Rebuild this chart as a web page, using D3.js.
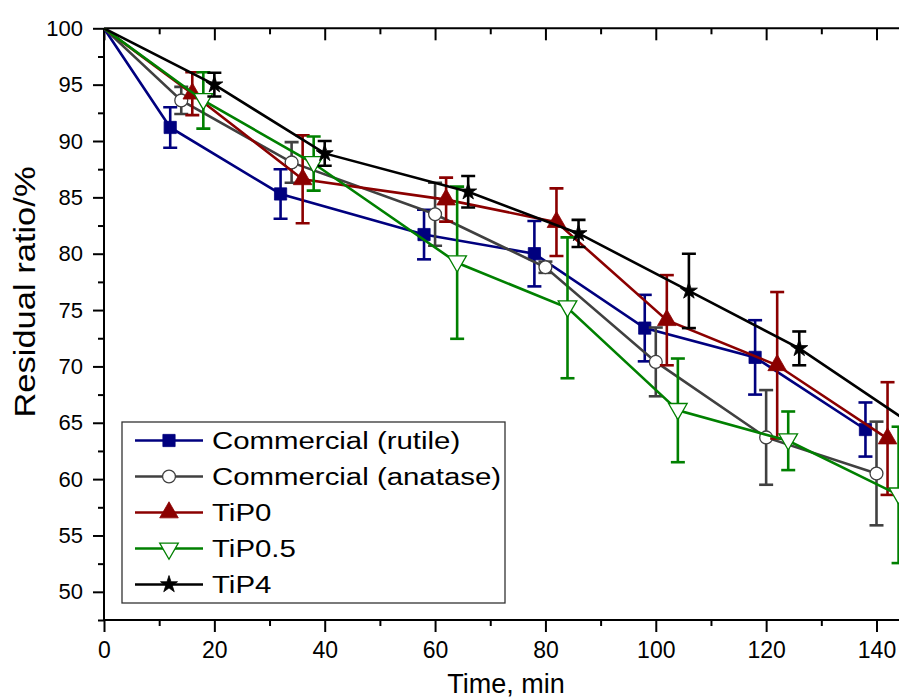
<!DOCTYPE html>
<html>
<head>
<meta charset="utf-8">
<script src="https://cdnjs.cloudflare.com/ajax/libs/d3/7.8.5/d3.min.js"></script>
<style>
  html, body { margin: 0; padding: 0; background: #fff; }
  svg { display: block; }
</style>
</head>
<body>
<div id="chart"></div>
<script>
// series names and data
const seriesNames = ['Commercial (rutile)', 'Commercial (anatase)', 'TiP0', 'TiP0.5', 'TiP4'];

const rutileTime = [0, 12, 32, 58, 78, 98, 118, 138];
const rutileValue = [100, 91.2, 85.3, 81.7, 80.0, 73.4, 70.8, 64.4];
const rutileErr = [0, 1.8, 2.2, 2.2, 2.9, 2.95, 3.3, 2.4];

const anataseTime = [0, 14, 34, 60, 80, 100, 120, 140];
const anataseValue = [100, 93.6, 88.1, 83.5, 78.8, 70.4, 63.7, 60.5];
const anataseErr = [0, 1.2, 1.8, 2.8, 0.5, 3.05, 4.2, 4.6];

const tip0Time = [0, 16, 36, 62, 82, 102, 122, 142];
const tip0Value = [100, 94.2, 86.6, 84.8, 82.8, 74.1, 70.1, 63.6];
const tip0Err = [0, 1.9, 3.9, 1.95, 3.0, 4.0, 6.5, 5.0];

const tip05Time = [0, 18, 38, 64, 84, 104, 124, 144];
const tip05Value = [100, 93.6, 88.0, 79.2, 75.2, 66.1, 63.4, 58.6];
const tip05Err = [0, 2.5, 2.4, 6.75, 6.25, 4.6, 2.6, 6.05];

const tip4Time = [0, 20, 40, 66, 86, 106, 126, 146];
const tip4Value = [100, 95.0, 88.9, 85.5, 81.8, 76.7, 71.6, 65.0];
const tip4Err = [0, 1.05, 1.1, 1.4, 1.2, 3.3, 1.5, 2.0];

const xTicks = [0, 20, 40, 60, 80, 100, 120, 140];
const yTicks = [50, 55, 60, 65, 70, 75, 80, 85, 90, 95, 100];

const W = 899, H = 700;
const colors = ['#00007f', '#404040', '#8b0000', '#008000', '#000000'];
const symbols = [d3.symbolSquare, d3.symbolCircle, d3.symbolTriangle, d3.symbolTriangle, d3.symbolStar];
const fills = ['#00007f', '#ffffff', '#8b0000', '#ffffff', '#000000'];
const sizes = [150, 130, 150, 150, 90];
const rotations = [0, 0, 0, 180, 0];

const series = [
  { t: rutileTime, v: rutileValue, e: rutileErr },
  { t: anataseTime, v: anataseValue, e: anataseErr },
  { t: tip0Time, v: tip0Value, e: tip0Err },
  { t: tip05Time, v: tip05Value, e: tip05Err },
  { t: tip4Time, v: tip4Value, e: tip4Err }
].map((s, i) => ({
  name: seriesNames[i],
  color: colors[i],
  points: s.t.map((t, j) => ({ t: t, v: s.v[j], e: s.e[j] }))
}));

const svg = d3.select('#chart').append('svg')
  .attr('width', W)
  .attr('height', H);

const x = d3.scaleLinear().domain([0, 140]).range([104, 876.5]);
const y = d3.scaleLinear().domain([47.5, 100]).range([620, 28.3]);
const xMax = 145;

svg.append('clipPath').attr('id', 'plot-clip')
  .append('rect')
  .attr('x', x(0)).attr('y', y(100))
  .attr('width', x(xMax) - x(0)).attr('height', y(47.5) - y(100));

const font = 'Arial, "Liberation Sans", sans-serif';

// bottom axis
const xMinor = d3.range(0, xMax, 10).filter(d => d % 20 !== 0);
const bottomAxis = svg.append('g').attr('transform', `translate(0,${y(47.5)})`);
bottomAxis.call(d3.axisBottom(x).tickValues(xTicks).tickSize(12).tickPadding(10).tickFormat(d3.format('d')));
bottomAxis.append('g').call(d3.axisBottom(x).tickValues(xMinor).tickSize(6).tickFormat(''))
  .select('.domain').remove();
bottomAxis.select('.domain').attr('d', `M${x(0)},0H${W}`);

// top axis, ticks pointing into the plot
const topAxis = svg.append('g').attr('transform', `translate(0,${y(100)})`);
topAxis.call(d3.axisTop(x).tickValues(xTicks).tickSize(-12).tickFormat(''));
topAxis.append('g').call(d3.axisTop(x).tickValues(xMinor).tickSize(-6).tickFormat(''))
  .select('.domain').remove();
topAxis.select('.domain').attr('d', `M${x(0)},0H${W}`);

// left axis
const yMinor = d3.range(47.5, 100, 5);
const leftAxis = svg.append('g').attr('transform', `translate(${x(0)},0)`);
leftAxis.call(d3.axisLeft(y).tickValues(yTicks).tickSize(11).tickPadding(10).tickFormat(d3.format('d')));
leftAxis.append('g').call(d3.axisLeft(y).tickValues(yMinor).tickSize(6).tickFormat(''))
  .select('.domain').remove();
leftAxis.select('.domain').attr('d', `M0,${y(47.5)}V${y(100)}`);

svg.selectAll('.domain, .tick line')
  .attr('stroke', '#000')
  .attr('stroke-width', 2);

bottomAxis.selectAll('text')
  .attr('font-family', font)
  .attr('font-size', 23)
  .attr('fill', '#000');
leftAxis.selectAll('text')
  .attr('font-family', font)
  .attr('font-size', 22)
  .attr('fill', '#000');

// axis titles
svg.append('text')
  .attr('x', 506).attr('y', 693)
  .attr('text-anchor', 'middle')
  .attr('font-family', font)
  .attr('font-size', 27)
  .text('Time, min');

svg.append('text')
  .attr('transform', 'translate(35,292) rotate(-90) scale(1.15,1)')
  .attr('text-anchor', 'middle')
  .attr('font-family', font)
  .attr('font-size', 30)
  .text('Residual ratio/%');

// data
const plot = svg.append('g').attr('clip-path', 'url(#plot-clip)');
const line = d3.line().x(d => x(d.t)).y(d => y(d.v));

series.forEach((s, i) => {
  const g = plot.append('g');
  g.append('path')
    .datum(s.points)
    .attr('d', line)
    .attr('fill', 'none')
    .attr('stroke', s.color)
    .attr('stroke-width', 2.6);

  const pts = s.points.filter(d => d.t > 0);
  const eb = g.selectAll('.eb').data(pts).enter().append('g');
  eb.append('line')
    .attr('x1', d => x(d.t)).attr('x2', d => x(d.t))
    .attr('y1', d => y(d.v + d.e)).attr('y2', d => y(d.v - d.e));
  eb.append('line')
    .attr('x1', d => x(d.t) - 7).attr('x2', d => x(d.t) + 7)
    .attr('y1', d => y(d.v + d.e)).attr('y2', d => y(d.v + d.e));
  eb.append('line')
    .attr('x1', d => x(d.t) - 7).attr('x2', d => x(d.t) + 7)
    .attr('y1', d => y(d.v - d.e)).attr('y2', d => y(d.v - d.e));
  eb.selectAll('line')
    .attr('stroke', s.color)
    .attr('stroke-width', 2.6);

  g.selectAll('.mk').data(pts).enter().append('path')
    .attr('transform', d => `translate(${x(d.t)},${y(d.v) + (i === 3 ? -1.5 : 0)}) rotate(${rotations[i]})`)
    .attr('d', d3.symbol().type(symbols[i]).size(sizes[i]))
    .attr('fill', fills[i])
    .attr('stroke', s.color)
    .attr('stroke-width', i === 1 || i === 3 ? 1.3 : 0.8);
});

// legend
const lg = svg.append('g');
lg.append('rect')
  .attr('x', 122).attr('y', 422)
  .attr('width', 383).attr('height', 181)
  .attr('fill', '#fff')
  .attr('stroke', '#333')
  .attr('stroke-width', 1.3);

series.forEach((s, i) => {
  const ry = 440.5 + i * 36;
  lg.append('line')
    .attr('x1', 135).attr('x2', 203)
    .attr('y1', ry).attr('y2', ry)
    .attr('stroke', s.color)
    .attr('stroke-width', 2.6);
  lg.append('path')
    .attr('transform', `translate(169,${ry}) rotate(${rotations[i]})`)
    .attr('d', d3.symbol().type(symbols[i]).size(sizes[i]))
    .attr('fill', fills[i])
    .attr('stroke', s.color)
    .attr('stroke-width', i === 1 || i === 3 ? 1.3 : 0.8);
  lg.append('text')
    .attr('transform', `translate(212,${ry + 8.8}) scale(1.2,1)`)
    .attr('font-family', font)
    .attr('font-size', 24.5)
    .attr('fill', '#000')
    .text(s.name);
});
</script>
</body>
</html>
